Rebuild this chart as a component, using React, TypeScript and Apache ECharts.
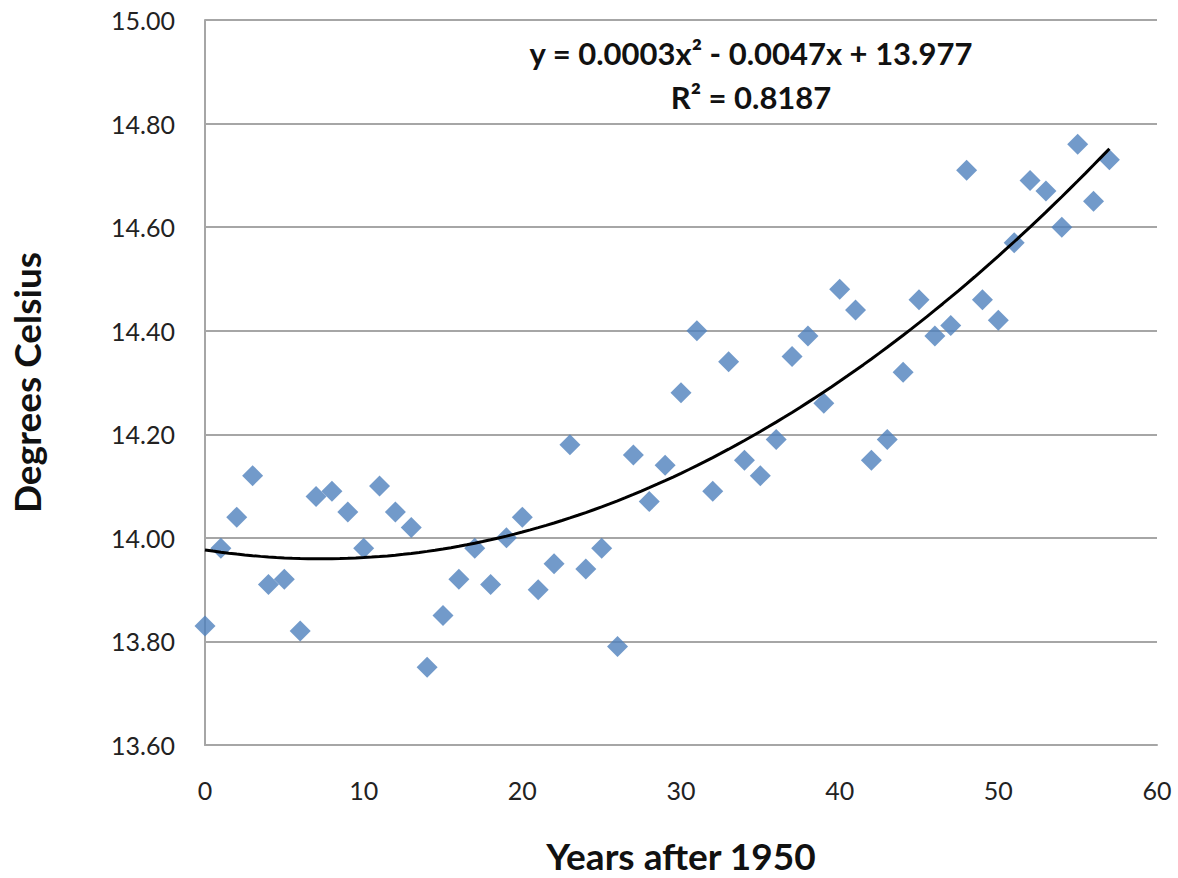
import React, { useEffect, useRef } from "react";
import * as echarts from "echarts";

const years: number[] = [
  0, 1, 2, 3, 4, 5, 6, 7, 8, 9, 10, 11, 12, 13, 14, 15, 16, 17, 18, 19,
  20, 21, 22, 23, 24, 25, 26, 27, 28, 29, 30, 31, 32, 33, 34, 35, 36, 37, 38, 39,
  40, 41, 42, 43, 44, 45, 46, 47, 48, 49, 50, 51, 52, 53, 54, 55, 56, 57,
];
const temps: number[] = [
  13.83, 13.98, 14.04, 14.12, 13.91, 13.92, 13.82, 14.08, 14.09, 14.05,
  13.98, 14.1, 14.05, 14.02, 13.75, 13.85, 13.92, 13.98, 13.91, 14.0,
  14.04, 13.9, 13.95, 14.18, 13.94, 13.98, 13.79, 14.16, 14.07, 14.14,
  14.28, 14.4, 14.09, 14.34, 14.15, 14.12, 14.19, 14.35, 14.39, 14.26,
  14.48, 14.44, 14.15, 14.19, 14.32, 14.46, 14.39, 14.41, 14.71, 14.46,
  14.42, 14.57, 14.69, 14.67, 14.6, 14.76, 14.65, 14.73,
];
const xTicks = { min: 0, max: 60, interval: 10 };
const yTicks = { min: 13.6, max: 15.0, interval: 0.2 };
const equationText = "y = 0.0003x\u00B2 - 0.0047x + 13.977";
const r2Text = "R\u00B2 = 0.8187";
const xTitle = "Years after 1950";
const yTitle = "Degrees Celsius";

// Least-squares quadratic fit of the data (as the spreadsheet trendline)
function fitQuadratic(xs: number[], ys: number[]): [number, number, number] {
  const S = [0, 0, 0, 0, 0];
  const T = [0, 0, 0];
  for (let i = 0; i < xs.length; i++) {
    let p = 1;
    for (let k = 0; k < 5; k++) {
      S[k] += p;
      if (k < 3) T[k] += p * ys[i];
      p *= xs[i];
    }
  }
  const M = [
    [S[0], S[1], S[2], T[0]],
    [S[1], S[2], S[3], T[1]],
    [S[2], S[3], S[4], T[2]],
  ];
  for (let c = 0; c < 3; c++) {
    let piv = c;
    for (let r = c + 1; r < 3; r++) if (Math.abs(M[r][c]) > Math.abs(M[piv][c])) piv = r;
    [M[c], M[piv]] = [M[piv], M[c]];
    for (let r = 0; r < 3; r++) {
      if (r === c) continue;
      const f = M[r][c] / M[c][c];
      for (let k = c; k < 4; k++) M[r][k] -= f * M[c][k];
    }
  }
  return [M[0][3] / M[0][0], M[1][3] / M[1][1], M[2][3] / M[2][2]];
}

export default function App() {
  const ref = useRef<HTMLDivElement>(null);
  useEffect(() => {
    if (!ref.current) return;
    const chart = echarts.init(ref.current, undefined, { renderer: "svg" });
    const [c0, c1, c2] = fitQuadratic(years, temps);
    const xStart = years[0];
    const xEnd = years[years.length - 1];
    const trend: [number, number][] = [];
    for (let s = 0; s <= 114; s++) {
      const x = xStart + ((xEnd - xStart) * s) / 114;
      trend.push([x, c0 + c1 * x + c2 * x * x]);
    }
    const font = "Lato, 'Open Sans', sans-serif";
    chart.setOption({
      animation: false,
      backgroundColor: "#ffffff",
      grid: {
        left: 205,
        right: 21,
        top: 20,
        bottom: 133,
        containLabel: false,
        outerBoundsMode: "none",
      },
      xAxis: {
        type: "value",
        min: xTicks.min,
        max: xTicks.max,
        interval: xTicks.interval,
        axisLine: { show: true, onZero: false, lineStyle: { color: "#A6A6A6", width: 2 } },
        axisTick: { show: false },
        splitLine: { show: false },
        axisLabel: { color: "#222", fontSize: 25, fontFamily: font, margin: 32 },
        name: xTitle,
        nameLocation: "middle",
        nameGap: 92,
        nameTextStyle: { color: "#111", fontSize: 37, fontWeight: "bold", fontFamily: font },
      },
      yAxis: {
        type: "value",
        min: yTicks.min,
        max: yTicks.max,
        interval: yTicks.interval,
        axisLine: { show: true, lineStyle: { color: "#A6A6A6", width: 2 } },
        axisTick: { show: false },
        splitLine: { show: true, lineStyle: { color: "#A6A6A6", width: 2 } },
        axisLabel: {
          color: "#222",
          fontSize: 25,
          fontFamily: font,
          margin: 30,
          formatter: (v: number) => v.toFixed(2),
        },
        name: yTitle,
        nameLocation: "middle",
        nameGap: 160,
        nameRotate: 90,
        nameTextStyle: { color: "#111", fontSize: 37, fontWeight: "bold", fontFamily: font },
      },
      graphic: [
        {
          type: "text",
          x: 751,
          y: 31,
          style: {
            text: equationText + "\n" + r2Text,
            textAlign: "center",
            textVerticalAlign: "top",
            font: "bold 31px " + font,
            fill: "#111",
            lineHeight: 44,
          },
        },
      ],
      series: [
        {
          type: "scatter",
          data: years.map((x, i) => [x, temps[i]]),
          symbol: "diamond",
          symbolSize: 21,
          itemStyle: { color: "#4F81BD" },
          z: 3,
        },
        {
          type: "line",
          data: trend,
          showSymbol: false,
          symbol: "none",
          lineStyle: { color: "#000000", width: 3 },
          z: 4,
        },
      ],
    });
    return () => chart.dispose();
  }, []);
  return (
    <div
      ref={ref}
      style={{ position: "absolute", left: 0, top: 0, width: 1178, height: 878 }}
    />
  );
}
